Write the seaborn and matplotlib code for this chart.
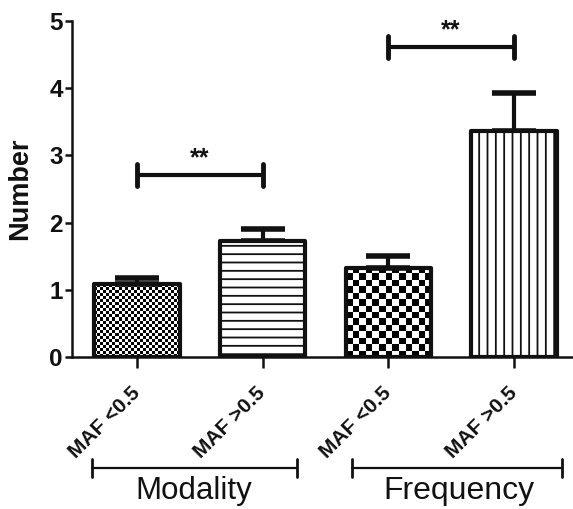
import numpy as np
import pandas as pd
import matplotlib
matplotlib.use("Agg")
import matplotlib.pyplot as plt
import seaborn as sns
from matplotlib.transforms import blended_transform_factory

# --- data -------------------------------------------------------------
groups = ["Modality", "Modality", "Frequency", "Frequency"]
maf_labels = ["MAF <0.5", "MAF >0.5", "MAF <0.5", "MAF >0.5"]
means = [1.08, 1.72, 1.33, 3.36]
sems = [0.09, 0.19, 0.17, 0.57]
sig_pairs = [(0, 1), (2, 3)]
sig_levels = [2.71, 4.61]
sig_marks = ["**", "**"]
y_ticks = [0, 1, 2, 3, 4, 5]

# --- styling ----------------------------------------------------------
sns.set_style("ticks")
plt.rcParams["font.family"] = ["Liberation Sans", "DejaVu Sans"]
plt.rcParams["hatch.linewidth"] = 1.3
plt.rcParams["hatch.color"] = "#111111"
INK = "#111111"
# bar fills: fine checker, horizontal lines, coarse checker, vertical lines
fills = [("checker", 3.0), ("hatch", "--"), ("checker", 6.6), ("hatch", "||")]

df = pd.DataFrame({
    "key": [f"{g}|{m}" for g, m in zip(groups, maf_labels)],
    "group": groups,
    "maf": maf_labels,
    "mean": means,
    "sem": sems,
})

fig = plt.figure(figsize=(5.73, 5.09), dpi=100)
ax = fig.add_axes([72 / 573, 152 / 509, 1 - 72 / 573, 336 / 509])

sns.barplot(data=df, x="key", y="mean", order=list(df["key"]), color="white",
            edgecolor=INK, linewidth=3, width=0.68, errorbar=None, ax=ax,
            zorder=3)

ax.set_xlim(-0.517, 3.47)
ax.set_ylim(0, 5)
fig.canvas.draw()

# apply the fill of each bar
for patch, (kind, spec) in zip(ax.patches, fills):
    patch.set_joinstyle("round")
    if kind == "hatch":
        patch.set_hatch(spec)
        continue
    patch.set_facecolor("none")
    x0, w, h = patch.get_x(), patch.get_width(), patch.get_height()
    (px0, py0), (px1, py1) = ax.transData.transform([(x0, 0), (x0 + w, h)])
    nx = max(1, int(round((px1 - px0) / spec)))
    ny = max(1, int(round((py1 - py0) / spec)))
    board = (np.add.outer(np.arange(ny), np.arange(nx)) % 2).astype(float)
    im = ax.imshow(board, extent=[x0, x0 + w, 0, h], cmap="gray",
                   vmin=0, vmax=1, interpolation="nearest", aspect="auto",
                   origin="lower", zorder=2)
    im.set_clip_path(patch)

ax.set_xlim(-0.517, 3.47)
ax.set_ylim(0, 5)

# upper error bars (SEM)
eb = ax.errorbar(x=np.arange(len(means)), y=means,
                 yerr=[np.zeros(len(sems)), sems], fmt="none", ecolor=INK,
                 elinewidth=3, capsize=16, capthick=4, zorder=2.5)
for cl in eb[1]:
    cl.set_solid_capstyle("round")

# significance brackets
for (i, j), lvl, mark in zip(sig_pairs, sig_levels, sig_marks):
    ax.plot([i, j], [lvl, lvl], color=INK, lw=3, solid_capstyle="butt",
            zorder=4, clip_on=False)
    for xe in (i, j):
        ax.plot([xe, xe], [lvl - 0.16, lvl + 0.16], color=INK, lw=3.5,
                solid_capstyle="round", zorder=4, clip_on=False)
    ax.text((i + j) / 2, lvl + 0.07, mark, ha="center", va="bottom",
            fontsize=18, fontweight="bold", color=INK)

# axes
sns.despine(ax=ax)
for side in ("left", "bottom"):
    ax.spines[side].set_linewidth(1.8)
    ax.spines[side].set_color(INK)
ax.set_yticks(y_ticks)
ax.set_yticklabels([str(t) for t in y_ticks], fontsize=17.5, fontweight="bold")
ax.tick_params(axis="y", direction="out", length=5, width=1.8, pad=1.5,
               colors=INK)
ax.tick_params(axis="x", direction="out", length=8, width=1.8, pad=16,
               colors=INK)
ax.set_xticks(np.arange(len(maf_labels)))
ax.set_xticklabels(maf_labels, rotation=45, ha="right", va="center",
                   rotation_mode="anchor", fontsize=15, fontweight="bold")
ax.set_xlabel("")
ax.set_ylabel("Number", fontsize=19.5, fontweight="bold", color=INK)
ax.yaxis.set_label_coords(-0.077, 0.5)

# group brackets under the tick labels
trans = blended_transform_factory(ax.transData, ax.transAxes)
group_names = ["Modality", "Frequency"]
group_spans = [(-0.358, 1.273), (1.71, 3.381)]
group_text_x = [0.45, 2.56]
group_sizes = [22.5, 23]
for name, (a, b), tx, fs in zip(group_names, group_spans, group_text_x,
                                group_sizes):
    ax.plot([a, b], [-0.33, -0.33], color=INK, lw=1.6, transform=trans,
            clip_on=False)
    for xe in (a, b):
        ax.plot([xe, xe], [-0.357, -0.303], color=INK, lw=2,
                transform=trans, clip_on=False)
    ax.text(tx, -0.424, name, ha="center", va="baseline", fontsize=fs,
            color=INK, transform=trans)

fig.savefig("out.png", dpi=100)
